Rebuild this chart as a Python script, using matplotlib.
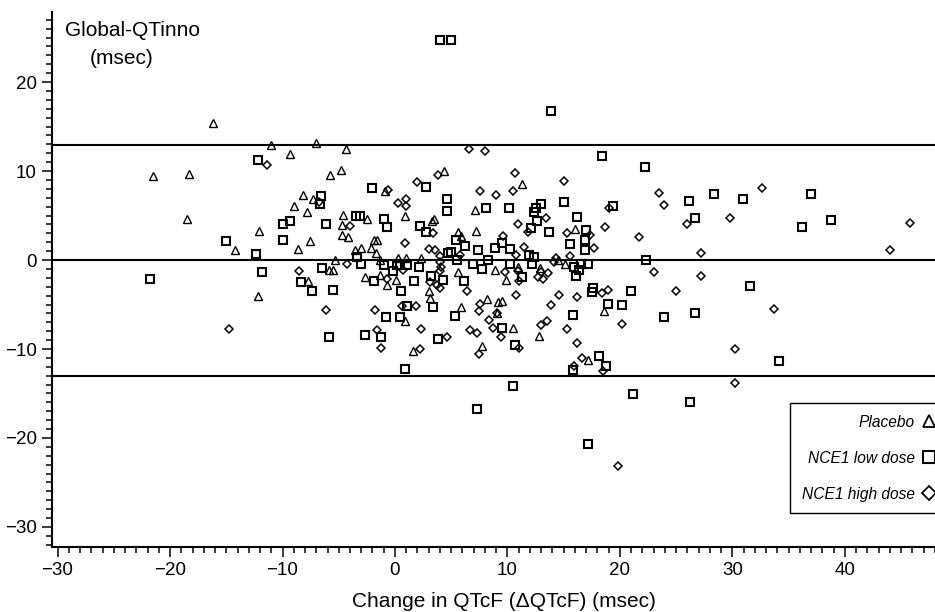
import matplotlib
matplotlib.use("Agg")
import matplotlib.pyplot as plt
from matplotlib.lines import Line2D
from matplotlib.ticker import MultipleLocator

plt.rcParams['font.family'] = ['Liberation Sans', 'DejaVu Sans']

# ---------------- data ----------------
placebo = [(-16.2,15.4),(-21.5,9.4),(-18.3,9.7),(-11.0,12.9),(-9.3,11.9),(-7.0,13.2),(-4.4,12.5),
           (-5.8,9.5),(-4.8,10.1),(4.4,10.0),(-0.9,7.7),(-8.2,7.3),(-7.3,6.85),(11.3,8.5),(-18.5,4.6),
           (-12.1,3.3),(-14.2,1.1),(-12.2,-4.1),(17.2,-11.2),(12.8,-8.5),(10.5,-7.6),(18.6,-5.7),
           (9.5,-4.6),(9.1,-5.9),(16.0,3.5),(14.5,0.0),(15.1,-0.4),(10.9,-0.75),(12.9,-0.9),(9.9,-2.3),
           (-8.95,6.1),(-7.8,5.4),(-7.55,2.1),(-8.65,1.2),(-4.6,5.1),(-2.5,4.6),(-4.7,3.9),(-4.7,2.8),
           (-4.15,2.55),(0.9,5.0),(7.1,5.6),(3.3,4.4),(3.5,4.6),(7.2,3.3),(5.6,3.1),(5.9,2.7),
           (-1.9,2.25),(-1.6,2.2),(-2.1,1.3),(-3.55,1.1),(-3.05,1.3),(-1.7,0.75),(-5.3,0.0),(-1.3,0.0),
           (0.3,0.2),(1.0,0.2),(2.3,0.2),(8.9,-1.1),(-5.85,-1.1),(-5.5,-1.1),(-7.7,-2.35),(-2.65,-1.95),
           (-1.35,-1.7),(-0.75,-2.8),(0.1,-2.25),(5.6,-1.3),(3.05,-3.45),(3.1,-4.3),(5.9,-5.3),
           (8.2,-4.4),(9.2,-4.7),(0.9,-6.8),(1.6,-10.2),(7.7,-9.7)]

low_dose = [(4.0,24.7),(4.95,24.7),(-12.15,11.2),(13.9,16.7),(18.4,11.7),(22.2,10.5),(2.73,8.2),
            (-2.0,8.05),(-6.6,7.2),(4.6,6.8),(26.1,6.6),(28.4,7.4),(15.0,6.5),(30.9,6.9),(37.0,7.4),
            (36.2,3.7),(38.75,4.5),(31.6,-2.9),(34.1,-11.4),(-15.0,2.1),(-12.4,0.7),(-11.8,-1.4),
            (-21.8,-2.1),(7.3,-16.7),(17.2,-20.7),(26.2,-16.0),(10.5,-14.2),(21.2,-15.1),(15.8,-12.4),
            (18.8,-11.9),(18.1,-10.75),(10.7,-9.6),(9.5,-7.6),(15.8,-6.2),(23.9,-6.4),(26.7,-5.9),
            (18.9,-4.9),(20.2,-5.0),(17.6,-3.1),(17.5,-3.6),(21.0,-3.45),(22.3,0.0),(26.7,4.7),
            (19.4,6.1),(12.95,6.3),(12.5,5.9),(12.4,5.35),(10.1,5.9),(12.6,4.4),(16.2,4.8),(13.7,3.1),
            (12.1,3.6),(17.0,3.4),(15.6,1.8),(16.9,2.25),(16.9,1.1),(9.5,1.9),(10.2,1.2),(11.9,0.55),
            (12.4,0.3),(12.2,-0.4),(10.2,-0.4),(15.9,-0.75),(16.5,-0.4),(17.2,-0.4),(16.4,-1.1),
            (16.1,-1.8),(11.3,-1.9),(-6.7,6.3),(-10.0,4.0),(-9.3,4.4),(-10.0,2.3),(-6.1,4.1),
            (-3.5,4.95),(-3.1,4.95),(-0.95,4.6),(-0.7,3.75),(4.6,5.5),(8.1,5.9),(2.2,3.8),(2.8,3.1),
            (5.4,2.3),(6.2,1.6),(7.4,1.1),(8.9,1.3),(4.75,0.8),(5.0,0.9),(-3.4,0.3),(-3.0,-0.4),
            (-0.95,-0.55),(0.15,-0.55),(0.45,-0.55),(1.1,-0.6),(2.1,-0.75),(-0.2,-1.2),(5.5,0.0),
            (6.9,-0.45),(7.7,-1.05),(8.3,0.0),(-6.5,-0.95),(-8.35,-2.5),(-7.4,-3.45),(-5.55,-3.4),
            (-1.9,-2.4),(1.7,-2.4),(3.2,-1.8),(4.3,-2.2),(6.1,-2.4),(0.5,-3.45),(1.1,-5.2),(3.4,-5.3),
            (-0.8,-6.45),(0.45,-6.4),(5.3,-6.3),(-2.65,-8.4),(-1.25,-8.7),(-5.9,-8.7),(3.85,-8.9),
            (0.9,-12.3)]

high_dose = [(-11.4,10.7),(6.6,12.5),(8.0,12.2),(2.0,8.8),(3.85,9.5),(-0.6,7.9),(7.6,7.75),(9.0,7.3),
             (1.0,6.8),(10.7,9.8),(10.5,7.75),(15.0,8.9),(23.5,7.5),(32.65,8.05),(29.8,4.7),(45.8,4.2),
             (44.0,1.1),(33.7,-5.5),(30.2,-10.0),(30.2,-13.8),(-14.8,-7.8),(19.8,-23.2),(15.9,-11.9),
             (18.5,-12.5),(16.6,-11.0),(16.15,-9.3),(11.0,-9.9),(9.4,-8.7),(13.0,-7.3),(13.5,-6.9),
             (15.3,-7.7),(20.2,-7.2),(13.9,-5.1),(16.2,-4.2),(14.6,-3.9),(10.75,-3.9),(18.4,-3.75),
             (18.9,-3.4),(25.0,-3.45),(23.0,-1.4),(27.2,-1.75),(27.2,0.75),(26.0,4.0),(23.9,6.2),
             (21.7,2.6),(18.7,3.75),(19.0,5.9),(10.9,4.0),(13.4,4.75),(11.85,3.2),(15.3,3.0),(17.3,2.8),
             (17.7,1.4),(9.6,2.7),(11.5,1.5),(10.75,0.6),(14.1,-0.2),(15.6,0.4),(9.8,-1.3),(10.9,-1.2),
             (13.0,-1.4),(13.6,-1.5),(12.75,-1.9),(13.2,-2.1),(11.0,-2.4),(-6.8,6.5),(-4.0,3.8),
             (0.3,6.4),(1.0,6.1),(3.4,3.0),(0.9,1.9),(3.05,1.2),(3.55,1.1),(4.0,0.4),(5.8,0.55),
             (-4.3,-0.4),(0.75,-1.1),(4.0,-0.2),(4.1,-0.75),(4.0,-1.2),(-8.5,-1.2),(-0.75,-2.1),
             (3.1,-2.5),(3.7,-2.8),(4.0,-3.2),(6.4,-3.45),(-6.1,-5.6),(-1.8,-5.6),(0.6,-5.2),(1.9,-5.2),
             (7.55,-4.9),(7.5,-5.7),(9.1,-5.9),(8.35,-6.7),(2.3,-7.7),(-1.6,-7.9),(4.6,-8.7),(6.7,-7.9),
             (7.3,-8.2),(8.7,-7.6),(-1.2,-9.85),(2.2,-10.0),(7.5,-10.6),(14.3,0.2)]

ref_lines = [12.9, 0.0, -13.05]
x_ticks = [-30, -20, -10, 0, 10, 20, 30, 40]
y_ticks = [-30, -20, -10, 0, 10, 20]
labels = ["Placebo", "NCE1 low dose", "NCE1 high dose"]

# ---------------- figure ----------------
fig = plt.figure(figsize=(9.35, 6.12), dpi=100)
ax = fig.add_axes([52/935, 65/612, 903/935, 535/612])

for y in ref_lines:
    ax.axhline(y, color='black', lw=1.5, zorder=1)

def xs(pts): return [p[0] for p in pts]
def ys(pts): return [p[1] for p in pts]

ax.plot(xs(placebo), ys(placebo), ls='none', marker='^', ms=5.4, mfc='none', mec='black', mew=1.0, zorder=3)
ax.plot(xs(low_dose), ys(low_dose), ls='none', marker='s', ms=5.2, mfc='none', mec='black', mew=1.5, zorder=3)
ax.plot(xs(high_dose), ys(high_dose), ls='none', marker='D', ms=4.0, mfc='none', mec='black', mew=1.1, zorder=3)

ax.set_xlim(-30.49, 49.78)
ax.set_ylim(-32.25, 27.87)
ax.set_xticks(x_ticks)
ax.set_yticks(y_ticks)
ax.xaxis.set_minor_locator(MultipleLocator(1))
ax.yaxis.set_minor_locator(MultipleLocator(1))
ax.tick_params(which='major', length=7, width=1.1, direction='out', labelsize=13.5, pad=4, color='black')
ax.tick_params(which='minor', length=4, width=1.1, direction='out', color='black')
for s in ['top', 'right']:
    ax.spines[s].set_visible(False)
for s in ['left', 'bottom']:
    ax.spines[s].set_linewidth(1.5)

ax.set_xlabel("Change in QTcF (\u0394QTcF) (msec)", fontsize=15, labelpad=9)

fig.text(65/935, 1 - 31/612, "Global-QTinno", fontsize=15, ha='left', va='center')
fig.text(122/935, 1 - 58/612, "(msec)", fontsize=15, ha='center', va='center')

handles = [
    Line2D([], [], ls='none', marker='^', ms=9, mfc='none', mec='black', mew=1.3),
    Line2D([], [], ls='none', marker='s', ms=9, mfc='none', mec='black', mew=1.5),
    Line2D([], [], ls='none', marker='D', ms=7, mfc='none', mec='black', mew=1.3),
]
leg = fig.legend(handles, labels, loc='upper left', bbox_to_anchor=(790/935, 1 - 403/612),
                 bbox_transform=fig.transFigure, markerfirst=False, frameon=True, fancybox=False,
                 edgecolor='black', framealpha=1, handlelength=0.9, handletextpad=0.5,
                 labelspacing=1.35, borderpad=0.75, borderaxespad=0,
                 prop={'style': 'italic', 'size': 11.2})
leg.get_frame().set_linewidth(1.0)

fig.savefig("out.png", dpi=100)
